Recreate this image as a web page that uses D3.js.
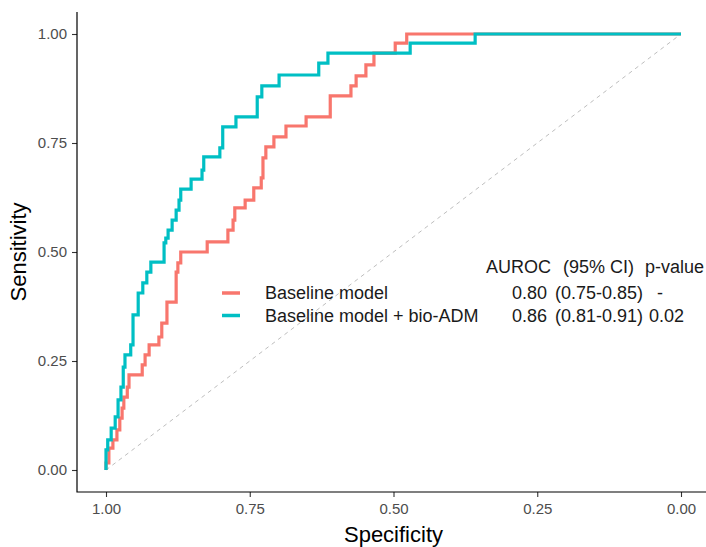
<!DOCTYPE html>
<html>
<head>
<meta charset="utf-8">
<script src="https://cdn.jsdelivr.net/npm/d3@7"></script>
<style>
	body { margin: 0; background: #fff; }
	svg { display: block; }
</style>
</head>
<body>
<div id="roc-chart-container"></div>
<script>
// ROC corner points [specificity, sensitivity]
var baselinePoints = [
	[1.000, 0.000], [0.995, 0.016], [0.988, 0.050], [0.981, 0.069], [0.976, 0.092],
	[0.972, 0.119], [0.969, 0.142], [0.963, 0.167], [0.960, 0.190], [0.937, 0.218],
	[0.932, 0.241], [0.925, 0.264], [0.908, 0.287], [0.903, 0.305], [0.894, 0.337],
	[0.878, 0.385], [0.875, 0.454], [0.870, 0.475], [0.824, 0.500], [0.788, 0.523],
	[0.779, 0.550], [0.776, 0.573], [0.758, 0.601], [0.743, 0.619], [0.730, 0.647],
	[0.727, 0.670], [0.722, 0.716], [0.708, 0.741], [0.687, 0.764], [0.652, 0.789],
	[0.610, 0.810], [0.574, 0.858], [0.565, 0.881], [0.548, 0.904], [0.534, 0.929],
	[0.497, 0.956], [0.477, 0.979], [0.000, 1.000]
];

var bioAdmPoints = [
	[1.000, 0.000], [0.997, 0.046], [0.991, 0.069], [0.984, 0.096], [0.979, 0.122],
	[0.974, 0.161], [0.970, 0.190], [0.967, 0.236], [0.957, 0.264], [0.953, 0.287],
	[0.944, 0.356], [0.936, 0.406], [0.929, 0.429], [0.922, 0.454], [0.899, 0.477],
	[0.896, 0.521], [0.892, 0.532], [0.885, 0.550], [0.878, 0.573], [0.873, 0.596],
	[0.870, 0.619], [0.852, 0.644], [0.833, 0.667], [0.830, 0.688], [0.802, 0.718],
	[0.797, 0.739], [0.774, 0.787], [0.737, 0.810], [0.729, 0.856], [0.699, 0.881],
	[0.630, 0.906], [0.614, 0.933], [0.471, 0.956], [0.358, 0.979], [0.000, 1.000]
];

var seriesNames = ['Baseline model', 'Baseline model + bio-ADM'];
var seriesColors = ['#F8766D', '#00BFC4'];
var aurocValues = ['0.80', '0.86'];
var ciValues = ['(0.75-0.85)', '(0.81-0.91)'];
var pValues = ['-', '0.02'];
var tableHeader = ['AUROC', '(95% CI)', 'p-value'];
var tickValues = [1, 0.75, 0.5, 0.25, 0];

function Chart() {
	var attrs = {
		svgWidth: 706,
		svgHeight: 547,
		panelLeft: 77,
		panelTop: 12,
		panelBottom: 492,
		container: '#roc-chart-container',
		font: '"Liberation Sans", Arial, Helvetica, sans-serif',
		tickTextFill: '#4D4D4D',
		textFill: '#1A1A1A'
	};

	var main = function () {
		var svg = d3.select(attrs.container).append('svg')
			.attr('width', attrs.svgWidth)
			.attr('height', attrs.svgHeight)
			.style('font-family', attrs.font);

		svg.append('rect')
			.attr('width', attrs.svgWidth)
			.attr('height', attrs.svgHeight)
			.attr('fill', '#fff');

		// specificity runs backwards, like ggroc
		var x = d3.scaleLinear().domain([1, 0]).range([106, 681]);
		var y = d3.scaleLinear().domain([0, 1]).range([470, 34]);

		// chance line
		svg.append('line')
			.attr('x1', x(1)).attr('y1', y(0))
			.attr('x2', x(0)).attr('y2', y(1))
			.attr('stroke', '#BEBEBE')
			.attr('stroke-width', 1)
			.attr('stroke-dasharray', '4,4');

		var line = d3.line()
			.x(d => x(d[0]))
			.y(d => y(d[1]))
			.curve(d3.curveStepBefore);

		svg.selectAll('.roc-line')
			.data([baselinePoints, bioAdmPoints])
			.enter().append('path')
			.attr('class', 'roc-line')
			.attr('d', line)
			.attr('fill', 'none')
			.attr('stroke', (d, i) => seriesColors[i])
			.attr('stroke-width', 3.2)
			.attr('stroke-linejoin', 'miter');

		// Axes
		var yAxis = d3.axisLeft(y)
			.tickValues(tickValues)
			.tickFormat(d3.format('.2f'))
			.tickSize(5)
			.tickPadding(5);

		var xAxis = d3.axisBottom(x)
			.tickValues(tickValues)
			.tickFormat(d3.format('.2f'))
			.tickSize(5)
			.tickPadding(6.5);

		var yG = svg.append('g')
			.attr('transform', 'translate(' + attrs.panelLeft + ',0)')
			.call(yAxis);
		var xG = svg.append('g')
			.attr('transform', 'translate(0,' + attrs.panelBottom + ')')
			.call(xAxis);

		[yG, xG].forEach(function (g) {
			g.select('.domain').remove();
			g.selectAll('.tick line').attr('stroke', '#333').attr('stroke-width', 1.1);
			g.selectAll('.tick text')
				.attr('fill', attrs.tickTextFill)
				.style('font-size', '15px');
		});

		svg.append('path')
			.attr('d', 'M' + attrs.panelLeft + ',' + attrs.panelTop + 'V' + attrs.panelBottom + 'H' + attrs.svgWidth)
			.attr('fill', 'none')
			.attr('stroke', '#000')
			.attr('stroke-width', 1.2);

		// Axis titles
		svg.append('text')
			.attr('x', (attrs.panelLeft + 710) / 2)
			.attr('y', 542)
			.attr('text-anchor', 'middle')
			.attr('fill', '#000')
			.style('font-size', '22px')
			.text('Specificity');

		svg.append('text')
			.attr('transform', 'translate(26,' + (attrs.panelTop + attrs.panelBottom) / 2 + ') rotate(-90)')
			.attr('text-anchor', 'middle')
			.attr('fill', '#000')
			.style('font-size', '22px')
			.text('Sensitivity');

		// Legend with the AUROC table
		var legend = svg.append('g').style('font-size', '18px').attr('fill', attrs.textFill);
		var headerX = [486, 563, 645];

		legend.selectAll('.legend-header')
			.data(tableHeader)
			.enter().append('text')
			.attr('class', 'legend-header')
			.attr('x', (d, i) => headerX[i])
			.attr('y', 273)
			.text(d => d);

		var rows = legend.selectAll('.legend-row')
			.data(seriesNames)
			.enter().append('g')
			.attr('class', 'legend-row')
			.attr('transform', (d, i) => 'translate(0,' + (293 + i * 22.5) + ')');

		rows.append('line')
			.attr('x1', 222).attr('x2', 240)
			.attr('stroke', (d, i) => seriesColors[i])
			.attr('stroke-width', 3.5);

		rows.append('text').attr('x', 265).attr('y', 6).text(d => d);
		rows.append('text').attr('x', 512).attr('y', 6).text((d, i) => aurocValues[i]);
		rows.append('text').attr('x', 555).attr('y', 6).text((d, i) => ciValues[i]);
		rows.append('text').attr('x', (d, i) => i === 0 ? 657 : 649).attr('y', 6).text((d, i) => pValues[i]);
	};

	main.render = function () {
		main();
		return main;
	};

	return main;
}

Chart().render();
</script>
</body>
</html>
